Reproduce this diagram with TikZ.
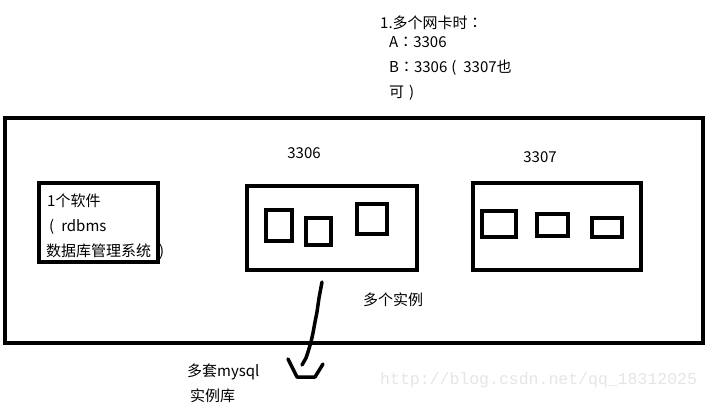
\documentclass[tikz,border=0pt]{standalone}
\usepackage{fontspec}
\setmainfont{Noto Sans CJK SC}
\newfontfamily\tcfont{Noto Sans CJK TC}
\newfontfamily\wmfont{Liberation Mono}
\newcommand{\pc}[1]{{\tcfont #1}}
\newcommand{\lpar}{\hspace{4pt}(\hspace{7pt}}
\newcommand{\rpar}[1][5pt]{\hspace{#1})\hspace{4pt}}
\begin{document}
\begin{tikzpicture}[x=1pt,y=-1pt,
  box/.style={draw=black,line width=4.5pt,minimum width=#1,inner sep=0pt},
  lbl/.style={font=\fontsize{15}{17}\selectfont,inner sep=0pt,anchor=west},
  clbl/.style={font=\fontsize{15}{17}\selectfont,inner sep=0pt}]
\useasboundingbox (0,0) rectangle (710,408);
% top text
\node[lbl] (t1) at (380,23) {1.多个网卡时\pc{：}};
\node[lbl] (t2) at (389,42) {A\pc{：}3306};
\node[lbl] (t3) at (389,68) {B\pc{：}3306\lpar 3307也};
\node[lbl] (t4) at (389,93) {可\rpar};
% left box texts (under box)
\node[lbl] (s1) at (47,201) {1个软件};
\node[lbl] (s2) at (45,227) {\lpar rdbms};
\node[lbl] (s3) at (46,252) {数据库管理系统\rpar[8pt]};
% outer
\node[box=698pt,minimum height=225pt] (outer) at (354,230.5) {};
\node[box=119pt,minimum height=79pt] (soft) at (98.5,222.5) {};
% 3306
\node[clbl] (l3306) at (304,153) {3306};
\node[box=170pt,minimum height=84pt] (b3306) at (332,228) {};
\node[box=26pt,minimum height=31pt] (a1) at (279,225.5) {};
\node[box=25pt,minimum height=27pt] (a2) at (318.5,231.5) {};
\node[box=30pt,minimum height=30pt] (a3) at (372,219) {};
% 3307
\node[clbl] (l3307) at (540,157) {3307};
\node[box=168pt,minimum height=87pt] (b3307) at (557,226.5) {};
\node[box=34pt,minimum height=26pt] (c1) at (499,224) {};
\node[box=31pt,minimum height=22pt] (c2) at (552.5,225) {};
\node[box=30pt,minimum height=19pt] (c3) at (607,227.5) {};
% labels
\node[clbl] (multi) at (393,300) {多个实例};
\node[lbl] (m1) at (187,372) {多套mysql};
\node[lbl] (m2) at (190,396) {实例库};
% squiggle
\coordinate (sq0) at (322,282);
\coordinate (sq1) at (302,365);
\draw[line width=3.5pt,line cap=round,line join=round] (sq0) -- (319,298) -- (317,312) -- (315,322) -- (313,333) -- (311,342) -- (308,352) -- (306,358) -- (sq1);
\coordinate (v1) at (288,359);
\coordinate (v2) at (297,377);
\coordinate (v3) at (315,377);
\coordinate (v4) at (323,364);
\draw[line width=3.5pt,line cap=round,line join=round] (v1) -- (v2) -- (v3) -- (v4);
% watermark
\node[font=\wmfont\fontsize{16.5}{18}\selectfont,text=black!10,inner sep=0pt,anchor=west] (wm) at (380,380) {http://blog.csdn.net/qq\_18312025};
\end{tikzpicture}
\end{document}
